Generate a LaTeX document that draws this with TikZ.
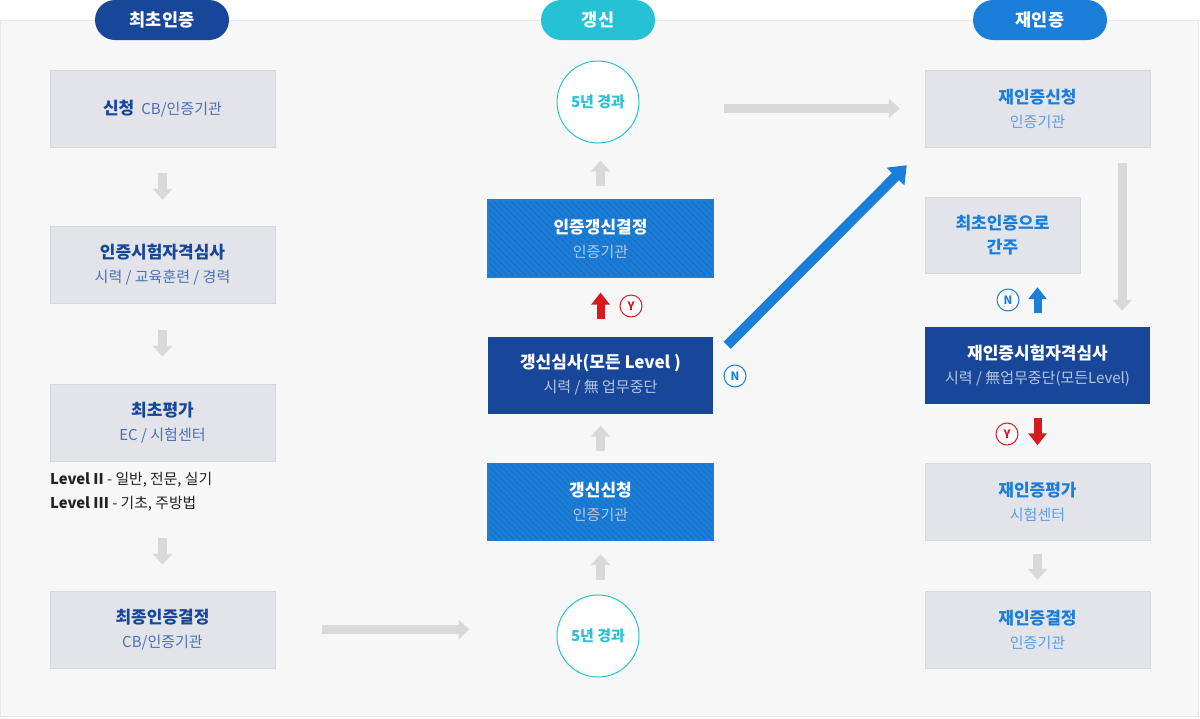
\documentclass[tikz,border=0pt]{standalone}
\usepackage{fontspec}
\setmainfont{Noto Sans CJK KR}
\definecolor{navy}{HTML}{18479A}
\definecolor{navysub}{HTML}{4A70B3}
\definecolor{cyanh}{HTML}{27C1D5}
\definecolor{sky}{HTML}{1B7ED8}
\definecolor{skysub}{HTML}{5C9EE2}
\definecolor{stripe}{HTML}{1A74CA}
\definecolor{boxfill}{HTML}{E2E4EA}
\definecolor{boxline}{HTML}{D5D8DE}
\definecolor{panel}{HTML}{F7F7F7}
\definecolor{panelline}{HTML}{E8E8E8}
\definecolor{arrgray}{HTML}{D9D9D9}
\definecolor{redarr}{HTML}{D71920}
\definecolor{palesub}{HTML}{B5C6E4}
\definecolor{darktxt}{HTML}{222222}
\usetikzlibrary{arrows.meta, positioning}
\newcommand\ttlfont{\fontsize{17}{24}\selectfont\bfseries}
\newcommand\subtxt[2]{{\fontsize{15}{21}\selectfont\mdseries\color{#1}#2}}
\tikzset{
  gbox/.style={
    draw=boxline, fill=boxfill, minimum width=225pt, minimum height=77pt,
    align=center, text=#1, font=\ttlfont, inner sep=0pt
  },
  gbox/.default=navy,
  bbox/.style={
    fill=navy, minimum width=225pt, minimum height=77pt,
    align=center, text=white, font=\ttlfont, inner sep=0pt
  },
  sbox/.style={
    fill=sky, draw=sky, line width=1.2pt, minimum width=225pt, minimum height=77pt,
    align=center, text=white, font=\ttlfont, inner sep=0pt,
    path picture={
      \foreach \k in {-102,-96,...,228}
        \draw[stripe, line width=1.6pt]
          ([shift={(\k,-10)}]path picture bounding box.north west) -- ++(100,100);
    }
  },
  pill/.style={
    fill=#1, rounded corners=20pt, minimum width=134pt, minimum height=40pt,
    text=white, font=\fontsize{17.5}{17.5}\selectfont\bfseries, inner sep=0pt
  },
  ring/.style={
    circle, draw=cyanh, fill=white, line width=1pt, minimum size=82pt, inner sep=0pt,
    text=cyanh, font=\fontsize{15}{15}\selectfont\bfseries
  },
  yn/.style={
    circle, draw=#1, fill=white, line width=1pt, minimum size=22pt, inner sep=0pt,
    text=#1, font=\fontsize{11.5}{11.5}\selectfont\bfseries
  },
  garr/.style={draw=arrgray, line width=9pt, -{Triangle[length=11pt,width=19pt]}},
  rarr/.style={draw=redarr, line width=8pt, -{Triangle[length=12pt,width=18pt]}},
  barr/.style={draw=sky, line width=8pt, -{Triangle[length=12pt,width=18pt]}},
  darr/.style={draw=sky, line width=10pt, -{Triangle[length=16pt,width=24pt]}},
}

\begin{document}
\begin{tikzpicture}[x=1pt, y=-1pt]
  \useasboundingbox (0,0) rectangle (1200,718);
  \draw[draw=panelline, fill=panel] (0.5,20.5) rectangle (1198.5,716.5);

  % headers
  \node[pill=navy] (h1) at (162,20) {최초인증};
  \node[pill=cyanh, minimum width=114pt] (h2) at (598,20) {갱신};
  \node[pill=sky] (h3) at (1040,20) {재인증};

  % first certification
  \node[gbox] (apply) at (162.5,108.5) {신청\hspace{7pt}\subtxt{navysub}{CB/인증기관}};
  \node[gbox] (qual) at (162.5,264.5) {인증시험자격심사\\\subtxt{navysub}{시력 / 교육훈련 / 경력}};
  \node[gbox] (eval) at (162.5,422.5) {최초평가\\\subtxt{navysub}{EC / 시험센터}};
  \node[anchor=west, align=left, text=darktxt, font=\fontsize{14.8}{24}\selectfont, inner sep=0pt] (lvl) at (50,492)
    {\textbf{Level II} - 일반, 전문, 실기\\\textbf{Level III} - 기초, 주방법};
  \node[gbox] (final) at (162.5,629.5) {최종인증결정\\\subtxt{navysub}{CB/인증기관}};

  % renewal
  \node[ring] (topc) at (598,102) {5년 경과};
  \node[sbox] (decide) at (600.5,238.5) {인증갱신결정\\\subtxt{palesub}{인증기관}};
  \node[bbox] (check) at (600.5,375) {갱신심사(모든 Level )\\\subtxt{palesub}{시력 / 無 업무중단}};
  \node[sbox] (renew) at (600.5,502) {갱신신청\\\subtxt{palesub}{인증기관}};
  \node[ring] (botc) at (598,636) {5년 경과};
  \node[yn=redarr] (ymid) at (631,306) {Y};
  \node[yn=sky] (nmid) at (735,376) {N};

  % recertification
  \node[gbox=sky] (reapply) at (1037.5,108.5) {재인증신청\\\subtxt{skysub}{인증기관}};
  \node[gbox=sky, minimum width=155pt, minimum height=76pt] (consider) at (1002.5,235) {최초인증으로\\간주};
  \node[bbox] (recheck) at (1037.5,365.5) {재인증시험자격심사\\\subtxt{palesub}{시력 / 無업무중단(모든Level)}};
  \node[gbox=sky] (reeval) at (1037.5,502) {재인증평가\\\subtxt{skysub}{시험센터}};
  \node[gbox=sky] (refinal) at (1037.5,629.5) {재인증결정\\\subtxt{skysub}{인증기관}};
  \node[yn=sky] (nright) at (1008,300) {N};
  \node[yn=redarr] (yright) at (1007,434) {Y};

  % arrows
  \draw[garr, shorten <=26pt, shorten >=26pt] (apply) -- (qual);
  \draw[garr, shorten <=27pt, shorten >=27pt] (qual) -- (eval);
  \draw[garr, shorten <=77pt, shorten >=26pt] (eval) -- (final);
  \draw[garr, shorten <=47pt, shorten >=87pt] (final.east) -- (final.east -| botc.west);
  \draw[garr, shorten <=15pt, shorten >=13pt] (botc.north -| renew.south) -- (renew.south);
  \draw[garr, shorten <=12pt, shorten >=12pt] (renew) -- (check);
  \draw[rarr, shorten <=17pt, shorten >=15pt] (check) -- (decide);
  \draw[garr, shorten <=13pt, shorten >=17pt] (decide.north) -- (decide.north |- topc.south);
  \draw[garr, shorten <=84pt, shorten >=25pt] (topc.east |- reapply.west) -- (reapply.west);
  \draw[darr] ([shift={(14,9)}]check.north east) -- ([shift={(-18,18)}]reapply.south west);
  \draw[garr, shorten <=16pt, shorten >=16pt] ([xshift=-28pt]reapply.south east) -- ([xshift=-28pt]recheck.north east);
  \draw[barr, shorten <=14pt, shorten >=14pt] (recheck.north) -- (recheck.north |- consider.south);
  \draw[rarr, shorten <=14pt, shorten >=18pt] (recheck) -- (reeval);
  \draw[garr, shorten <=13pt, shorten >=11pt] (reeval) -- (refinal);
\end{tikzpicture}
\end{document}
